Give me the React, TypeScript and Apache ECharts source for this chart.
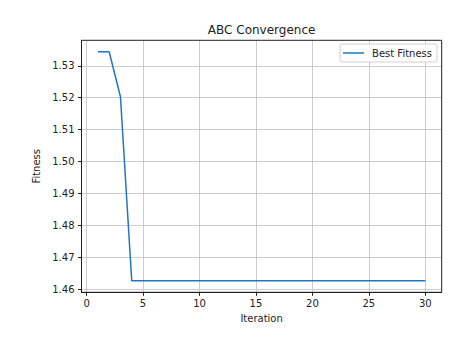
import React, { useEffect, useRef } from "react";
import * as echarts from "echarts";

const iterations: number[] = Array.from({ length: 30 }, (_, i) => i + 1);
const bestFitness: number[] = [
  1.5344, 1.5344, 1.5203, 1.4626, 1.4626, 1.4626, 1.4626, 1.4626, 1.4626, 1.4626,
  1.4626, 1.4626, 1.4626, 1.4626, 1.4626, 1.4626, 1.4626, 1.4626, 1.4626, 1.4626,
  1.4626, 1.4626, 1.4626, 1.4626, 1.4626, 1.4626, 1.4626, 1.4626, 1.4626, 1.4626,
];
const xTicks: number[] = [0, 5, 10, 15, 20, 25, 30];
const yTicks: number[] = [1.46, 1.47, 1.48, 1.49, 1.5, 1.51, 1.52, 1.53];

const FONT = "DejaVu Sans";

export default function App() {
  const ref = useRef<HTMLDivElement>(null);
  useEffect(() => {
    if (!ref.current) return;
    const chart = echarts.init(ref.current, undefined, { renderer: "svg" });
    const xMin = 1 - 0.05 * 29;
    const xMax = 30 + 0.05 * 29;
    const lo = Math.min(...bestFitness);
    const hi = Math.max(...bestFitness);
    const yMin = lo - 0.05 * (hi - lo);
    const yMax = hi + 0.05 * (hi - lo);
    chart.setOption({
      animation: false,
      backgroundColor: "#ffffff",
      graphic: [
        {
          type: "text",
          x: 261.6,
          y: 29.5,
          style: {
            text: "ABC Convergence",
            fontFamily: FONT,
            fontSize: 12,
            fill: "#222",
            align: "center",
            verticalAlign: "middle",
          },
          silent: true,
        },
        {
          type: "rect",
          shape: { x: 81.5, y: 40.3, width: 360.2, height: 252 },
          style: { fill: "none", stroke: "#222", lineWidth: 1 },
          silent: true,
          z: 100,
        },
      ],
      legend: {
        right: 31,
        top: 44,
        icon: "rect",
        itemWidth: 21,
        itemHeight: 1.5,
        padding: [4, 5, 4, 3],
        borderColor: "#d0d0d0",
        borderWidth: 1,
        borderRadius: 2,
        backgroundColor: "#ffffff",
        textStyle: { fontFamily: FONT, fontSize: 10, color: "#222", padding: [0, 0, 0, 3] },
        data: ["Best Fitness"],
      },
      grid: { left: 81.5, right: 26.3, top: 40.3, bottom: 46.7, containLabel: false, show: false },
      xAxis: {
        type: "value",
        min: xMin,
        max: xMax,
        name: "Iteration",
        nameLocation: "middle",
        nameGap: 17,
        nameTextStyle: { fontFamily: FONT, fontSize: 10, color: "#222" },
        axisLine: { show: true, onZero: false, lineStyle: { color: "#222", width: 1 } },
        axisTick: { show: true, length: 3.5, customValues: xTicks, lineStyle: { color: "#222" } },
        axisLabel: {
          customValues: xTicks,
          margin: 6,
          fontFamily: FONT,
          fontSize: 10,
          color: "#222",
          formatter: (v: number) => String(v),
        },
        splitLine: { show: true, lineStyle: { color: "#c0c0c0", width: 0.8 } },
      },
      yAxis: {
        type: "value",
        min: yMin,
        max: yMax,
        name: "Fitness",
        nameLocation: "middle",
        nameGap: 35,
        nameTextStyle: { fontFamily: FONT, fontSize: 10, color: "#222" },
        axisLine: { show: true, onZero: false, lineStyle: { color: "#222", width: 1 } },
        axisTick: { show: true, length: 3.5, customValues: yTicks, lineStyle: { color: "#222" } },
        axisLabel: {
          customValues: yTicks,
          margin: 7,
          fontFamily: FONT,
          fontSize: 10,
          color: "#222",
          formatter: (v: number) => v.toFixed(2),
        },
        splitLine: { show: true, lineStyle: { color: "#c0c0c0", width: 0.8 } },
      },
      series: [
        {
          name: "Best Fitness",
          type: "line",
          data: iterations.map((x, i) => [x, bestFitness[i]]),
          showSymbol: false,
          symbol: "none",
          lineStyle: { color: "#1f77c4", width: 1.5 },
          itemStyle: { color: "#1f77c4" },
        },
      ],
    });
    return () => chart.dispose();
  }, []);
  return (
    <div
      ref={ref}
      style={{ position: "fixed", left: 0, top: 0, width: 468, height: 339 }}
    />
  );
}
